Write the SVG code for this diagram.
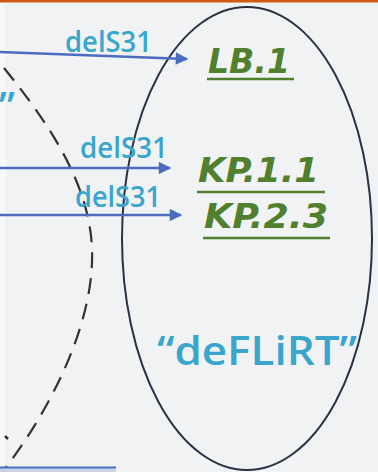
<svg xmlns="http://www.w3.org/2000/svg" width="378" height="472" viewBox="0 0 378 472">
<defs>
<style>
.lbl{font-family:"Open Sans","DejaVu Sans",sans-serif;fill:#3aa6cc;font-size:29px;font-weight:600}
.big{font-size:40px}
.grn{font-family:"DejaVu Sans",sans-serif;font-weight:bold;font-style:italic;fill:#50802d;font-size:34px}
.ul{stroke:#50802d;stroke-width:2.5}
.arr{stroke:#4a6dbf;stroke-width:2.5;fill:none}
</style>
<marker id="ah" viewBox="0 0 10 10" refX="9" refY="5" markerWidth="6" markerHeight="5" markerUnits="strokeWidth" orient="auto">
<path d="M0,0 L10,5 L0,10 z" fill="#4a6dbf"/>
</marker>
</defs>
<rect width="378" height="472" fill="#f1f2f4"/>
<rect x="0" y="0" width="5" height="472" fill="#f7f8f9"/>
<rect x="0" y="0" width="378" height="2.5" fill="#cf5a12"/>

<g id="dashed-region">
<path d="M4,68 C50,125 95,190 92,262 C90,330 50,410 4,470" fill="none" stroke="#333" stroke-width="2.2" stroke-dasharray="16 10"/>
<path d="M5,436 L8,439" stroke="#333" stroke-width="2.5"/>
<text class="lbl big" x="15" y="121" text-anchor="end">”</text>
</g>

<g id="deflirt-ellipse">
<ellipse cx="247" cy="238.5" rx="125" ry="231.5" fill="none" stroke="#2b3246" stroke-width="2"/>
<text class="lbl big" x="157" y="365" textLength="200" lengthAdjust="spacingAndGlyphs">“deFLiRT”</text>
</g>

<g id="LB1">
<text class="grn" x="208" y="73" textLength="82" lengthAdjust="spacingAndGlyphs">LB.1</text>
<line class="ul" x1="207" y1="79" x2="294" y2="79"/>
</g>
<g id="KP11">
<text class="grn" x="198" y="182" textLength="121" lengthAdjust="spacingAndGlyphs">KP.1.1</text>
<line class="ul" x1="197" y1="192" x2="325" y2="192"/>
</g>
<g id="KP23">
<text class="grn" x="204" y="228" textLength="124" lengthAdjust="spacingAndGlyphs">KP.2.3</text>
<line class="ul" x1="203" y1="238" x2="330" y2="238"/>
</g>

<g id="connectors">
<line class="arr" x1="0" y1="52" x2="187" y2="59" marker-end="url(#ah)"/>
<text class="lbl" x="65" y="52" textLength="87" lengthAdjust="spacingAndGlyphs">delS31</text>
<line class="arr" x1="0" y1="168" x2="170" y2="168" marker-end="url(#ah)"/>
<text class="lbl" x="80" y="158" textLength="88" lengthAdjust="spacingAndGlyphs">delS31</text>
<line class="arr" x1="0" y1="215" x2="181" y2="215" marker-end="url(#ah)"/>
<text class="lbl" x="75" y="207" textLength="86" lengthAdjust="spacingAndGlyphs">delS31</text>
<rect x="0" y="468" width="116" height="4" fill="#c9d3e6"/>
<line x1="0" y1="467.5" x2="116" y2="467.5" stroke="#4a6dbf" stroke-width="2"/>
</g>
</svg>
